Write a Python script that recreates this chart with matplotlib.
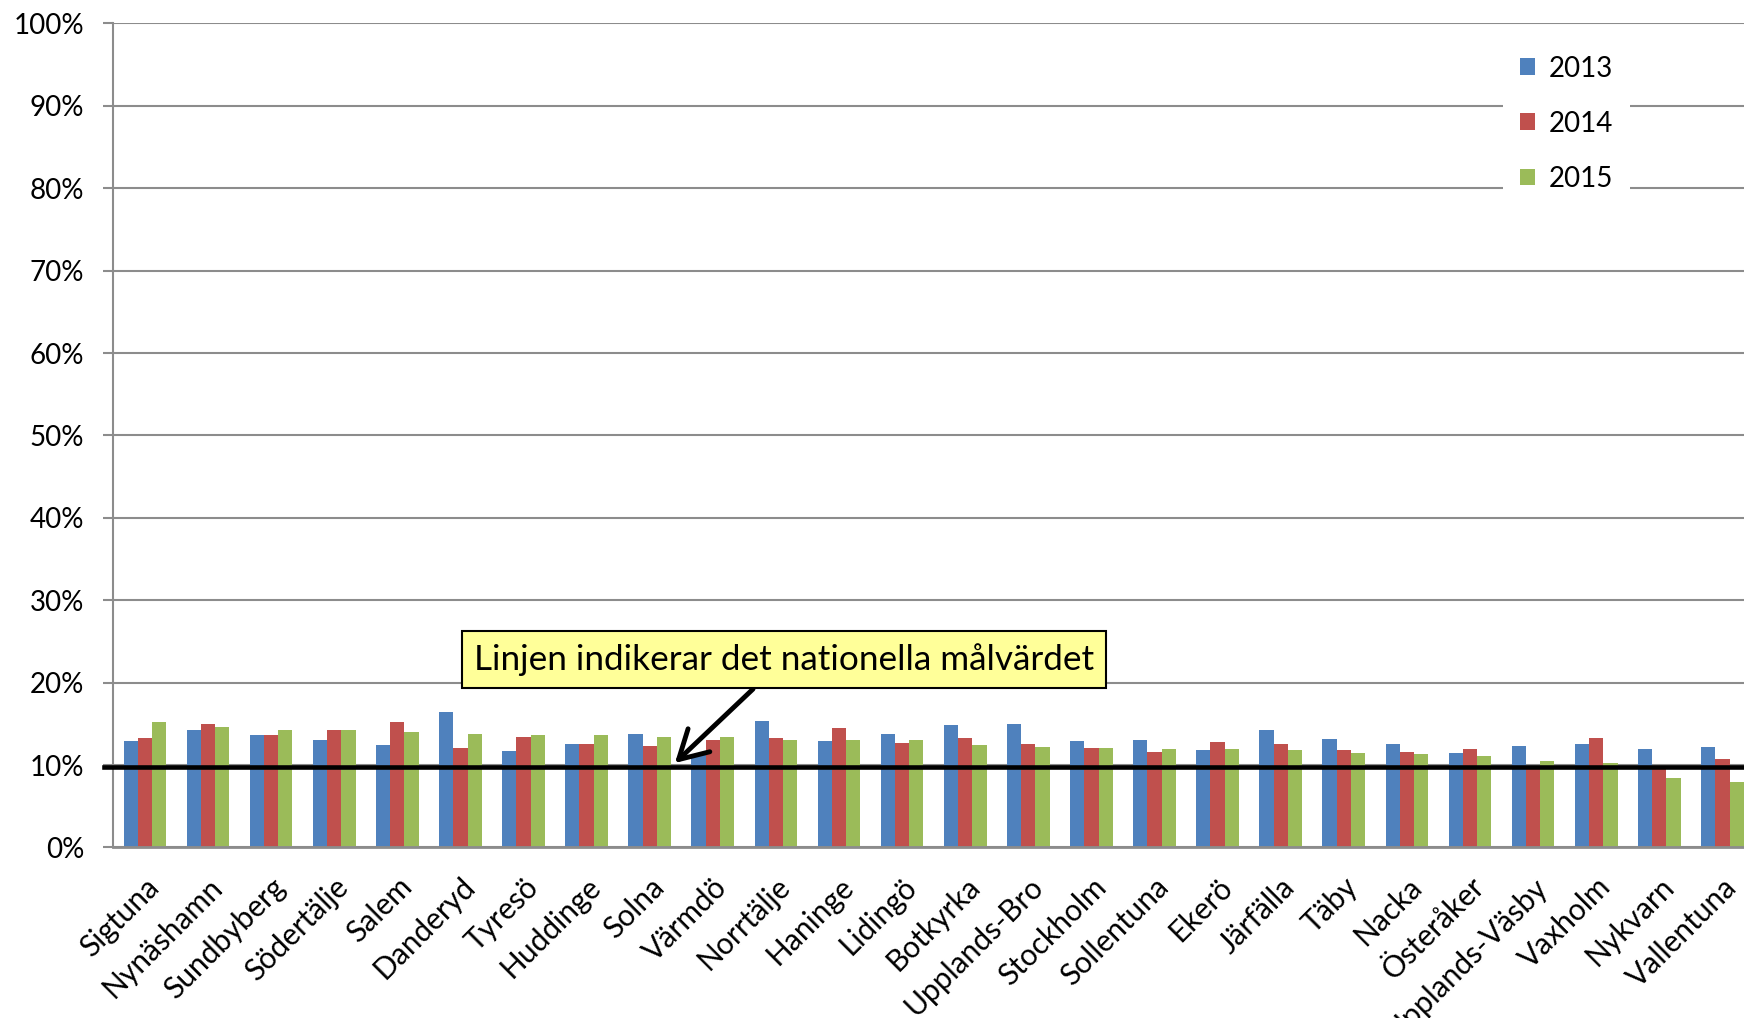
import matplotlib
matplotlib.use("Agg")
import matplotlib.pyplot as plt
import numpy as np
from matplotlib.patches import Patch

# kommuner och andel per år (%)
kommuner = ["Sigtuna", "Nynäshamn", "Sundbyberg", "Södertälje", "Salem", "Danderyd",
            "Tyresö", "Huddinge", "Solna", "Värmdö", "Norrtälje", "Haninge", "Lidingö",
            "Botkyrka", "Upplands-Bro", "Stockholm", "Sollentuna", "Ekerö", "Järfälla",
            "Täby", "Nacka", "Österåker", "Upplands-Väsby", "Vaxholm", "Nykvarn", "Vallentuna"]

v2013 = [12.9, 14.2, 13.6, 13.0, 12.4, 16.5, 11.7, 12.6, 13.8, 11.3, 15.4, 12.9, 13.8,
         14.9, 15.0, 12.9, 13.1, 11.8, 14.3, 13.2, 12.6, 11.5, 12.3, 12.5, 11.9, 12.2]
v2014 = [13.3, 15.0, 13.7, 14.2, 15.2, 12.1, 13.4, 12.5, 12.3, 13.1, 13.3, 14.5, 12.7,
         13.3, 12.6, 12.1, 11.6, 12.8, 12.6, 11.8, 11.6, 12.0, 9.9, 13.3, 9.9, 10.7]
v2015 = [15.2, 14.6, 14.3, 14.2, 14.0, 13.8, 13.7, 13.6, 13.4, 13.4, 13.1, 13.0, 13.0,
         12.4, 12.2, 12.1, 12.0, 12.0, 11.8, 11.5, 11.4, 11.1, 10.5, 10.2, 8.4, 8.0]

target = 9.75  # nationella målvärdet (linjen)

colors = ["#4F81BD", "#C0504D", "#9BBB59"]
years = ["2013", "2014", "2015"]

plt.rcParams['font.family'] = ['Lato', 'DejaVu Sans']

fig = plt.figure(figsize=(17.44, 10.18), dpi=100)
ax = fig.add_axes([0.065, 0.1675, 0.9407, 0.8095])

x = np.arange(len(kommuner))
w = 0.226
for i, (vals, c) in enumerate(zip([v2013, v2014, v2015], colors)):
    ax.bar(x + (i - 1) * w, vals, width=w, color=c, zorder=2)

ax.set_xlim(-0.5, len(kommuner) - 0.5)
ax.set_ylim(0, 100)
ax.set_yticks(np.arange(0, 101, 10))
ax.set_yticklabels([f"{v}%" for v in range(0, 101, 10)], fontsize=20)
ax.yaxis.grid(True, color="#8C8C8C", linewidth=1.5)
ax.set_axisbelow(True)

ax.set_xticks(x)
ax.set_xticklabels(kommuner, fontsize=21.5, rotation=45, ha="right",
                   rotation_mode="anchor")
ax.tick_params(axis="x", length=0, pad=18)
ax.tick_params(axis="y", length=7, width=1.5, color="#8C8C8C", pad=14)

for s in ["top", "right"]:
    ax.spines[s].set_visible(False)
ax.spines["left"].set_color("#8C8C8C")
ax.spines["left"].set_linewidth(1.5)
ax.spines["bottom"].set_color("#8C8C8C")
ax.spines["bottom"].set_linewidth(2)

# målvärdeslinje
ax.axhline(target, xmin=-0.006, xmax=1.0, color="black", linewidth=3.3,
           zorder=4, clip_on=False)

ax.annotate("Linjen indikerar det nationella målvärdet",
            xy=(8.4, 10.25), xytext=(10.13, 22.8),
            ha="center", va="center", fontsize=25.3, zorder=5,
            bbox=dict(boxstyle="square,pad=0.35", facecolor="#FFFF99",
                      edgecolor="black", linewidth=1.5),
            arrowprops=dict(arrowstyle="->,head_length=0.8,head_width=0.45",
                            color="black", linewidth=3.5, shrinkA=0, shrinkB=0))

handles = [Patch(facecolor=c, label=y) for c, y in zip(colors, years)]
ax.legend(handles=handles, loc="center left", bbox_to_anchor=(0.854, 0.8785),
          bbox_transform=fig.transFigure, fontsize=20, frameon=True,
          edgecolor="none", facecolor="white", framealpha=1, fancybox=False,
          handlelength=0.55, handleheight=0.55, handletextpad=0.5,
          labelspacing=1.05, borderpad=0.6)

fig.savefig("out.png", dpi=100)
